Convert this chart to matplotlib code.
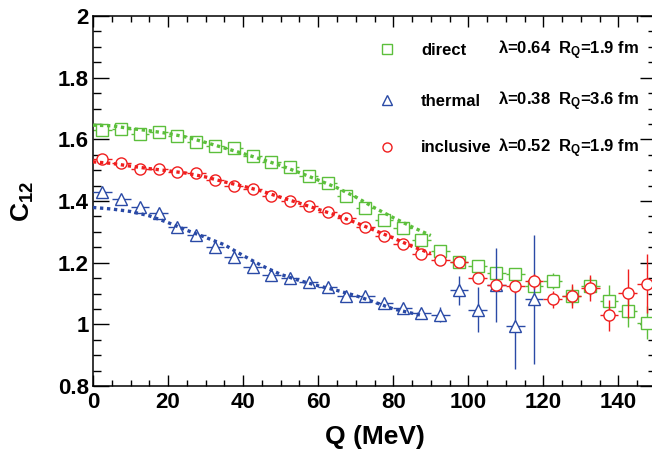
import numpy as np
import matplotlib
matplotlib.use("Agg")
import matplotlib.pyplot as plt
from matplotlib.ticker import MultipleLocator

plt.rcParams.update({
    "font.family": "Liberation Sans",
    "font.weight": "bold",
    "mathtext.fontset": "custom",
    "mathtext.rm": "Liberation Sans:bold",
    "mathtext.it": "Liberation Sans:bold",
    "mathtext.bf": "Liberation Sans:bold",
})

# --- data ---
q_bins = [2.5, 7.5, 12.5, 17.5, 22.5, 27.5, 32.5, 37.5, 42.5, 47.5,
          52.5, 57.5, 62.5, 67.5, 72.5, 77.5, 82.5, 87.5, 92.5, 97.5,
          102.5, 107.5, 112.5, 117.5, 122.5, 127.5, 132.5, 137.5, 142.5, 147.5]

direct_c = [1.630, 1.633, 1.617, 1.623, 1.611, 1.590, 1.578, 1.571, 1.546, 1.525,
            1.511, 1.481, 1.457, 1.416, 1.376, 1.340, 1.311, 1.275, 1.238, 1.203,
            1.188, 1.166, 1.162, 1.124, 1.142, 1.093, 1.123, 1.077, 1.042, 1.005]
direct_err = [0.006, 0.006, 0.006, 0.006, 0.006, 0.006, 0.006, 0.006, 0.006, 0.006,
              0.006, 0.006, 0.006, 0.007, 0.007, 0.008, 0.008, 0.009, 0.010, 0.012,
              0.015, 0.018, 0.020, 0.022, 0.026, 0.030, 0.032, 0.049, 0.051, 0.054]

inclusive_c = [1.536, 1.522, 1.504, 1.504, 1.493, 1.491, 1.468, 1.449, 1.439, 1.416,
               1.401, 1.385, 1.365, 1.344, 1.315, 1.286, 1.261, 1.229, 1.209, 1.202,
               1.151, 1.126, 1.123, 1.139, 1.081, 1.092, 1.119, 1.030, 1.101, 1.132]
inclusive_err = [0.005, 0.005, 0.005, 0.005, 0.005, 0.005, 0.005, 0.005, 0.005, 0.005,
                 0.005, 0.005, 0.006, 0.006, 0.006, 0.007, 0.007, 0.008, 0.009, 0.011,
                 0.015, 0.016, 0.020, 0.025, 0.027, 0.038, 0.042, 0.050, 0.079, 0.095]

thermal_q = q_bins[:24]
thermal_c = [1.428, 1.408, 1.381, 1.361, 1.316, 1.290, 1.252, 1.217, 1.187, 1.161,
             1.149, 1.136, 1.122, 1.093, 1.093, 1.068, 1.054, 1.037, 1.031, 1.110,
             1.048, 1.127, 0.994, 1.081]
thermal_err = [0.006, 0.006, 0.006, 0.006, 0.006, 0.006, 0.006, 0.006, 0.006, 0.006,
               0.006, 0.006, 0.007, 0.007, 0.008, 0.008, 0.009, 0.010, 0.024, 0.047,
               0.074, 0.120, 0.138, 0.210]

# fitted curves
fit_q = [0, 5, 10, 15, 20, 25, 30, 35, 40, 45, 50, 55, 60, 65, 70, 75, 80, 85, 90]
fit_direct = [1.646, 1.644, 1.635, 1.628, 1.619, 1.607, 1.590, 1.572, 1.554, 1.535,
              1.515, 1.492, 1.468, 1.443, 1.413, 1.378, 1.346, 1.316, 1.288]
fit_inclusive = [1.527, 1.522, 1.513, 1.505, 1.498, 1.490, 1.478, 1.462, 1.448, 1.432,
                 1.412, 1.393, 1.373, 1.353, 1.330, 1.305, 1.280, 1.253, 1.230]
fit_thermal_q = [0, 5, 10, 15, 20, 25, 30, 35, 40, 45, 50, 55, 60, 65, 70, 75, 80, 85, 88]
fit_thermal = [1.379, 1.374, 1.366, 1.352, 1.330, 1.305, 1.282, 1.258, 1.223, 1.190,
               1.162, 1.142, 1.125, 1.110, 1.093, 1.072, 1.050, 1.036, 1.028]

names = ["direct", "thermal", "inclusive"]
params = ["λ=0.64  R$_\\mathrm{Q}$=1.9 fm",
          "λ=0.38  R$_\\mathrm{Q}$=3.6 fm",
          "λ=0.52  R$_\\mathrm{Q}$=1.9 fm"]

GREEN = "#5cbf3c"
BLUE = "#2a4aa6"
RED = "#f01e1e"

fig = plt.figure(figsize=(6.52, 4.51), dpi=100)
ax = fig.add_axes([93 / 652, 65 / 451, 563 / 652, 370 / 451])

common = dict(xerr=2.5, ls="none", capsize=0, elinewidth=1.0, mew=1.0, mfc="white")
ax.errorbar(q_bins, direct_c, yerr=direct_err, fmt="s", ms=8.5,
            color=GREEN, zorder=2, **common)
ax.errorbar(thermal_q, thermal_c, yerr=thermal_err, fmt="^", ms=9,
            color=BLUE, zorder=3, **common)
ax.errorbar(q_bins, inclusive_c, yerr=inclusive_err, fmt="o", ms=8,
            color=RED, zorder=4, **common)

dots = (0, (1.0, 1.1))
ax.plot(fit_q, fit_direct, color=GREEN, lw=2.4, ls=dots, zorder=5)
ax.plot(fit_q, fit_inclusive, color=RED, lw=2.4, ls=dots, zorder=5)
ax.plot(fit_thermal_q, fit_thermal, color=BLUE, lw=2.4, ls=dots, zorder=5)

# legend drawn by hand
leg_markers = ["s", "^", "o"]
leg_colors = [GREEN, BLUE, RED]
leg_y = [0.910, 0.772, 0.646]
for i in range(3):
    ax.plot([0.522], [leg_y[i]], marker=leg_markers[i], ms=6.5, mfc="white",
            mec=leg_colors[i], mew=1.0, transform=ax.transAxes, clip_on=False)
    ax.text(0.583, leg_y[i] - 0.002, names[i], transform=ax.transAxes,
            fontsize=12, fontweight="bold", va="center", ha="left")
    ax.text(0.720, leg_y[i] - 0.002, params[i], transform=ax.transAxes,
            fontsize=12, fontweight="bold", va="center", ha="left")

ax.set_xlim(0, 150)
ax.set_ylim(0.8, 2.0)
ax.xaxis.set_major_locator(MultipleLocator(20))
ax.xaxis.set_minor_locator(MultipleLocator(5))
ax.yaxis.set_major_locator(MultipleLocator(0.2))
ax.yaxis.set_minor_locator(MultipleLocator(0.05))
ax.set_yticks([0.8, 1.0, 1.2, 1.4, 1.6, 1.8, 2.0])
ax.set_yticklabels(["0.8", "1", "1.2", "1.4", "1.6", "1.8", "2"])

ax.tick_params(axis="both", which="both", direction="in", top=True, right=True,
               width=1.0, labelsize=16, colors="black")
ax.tick_params(axis="y", which="major", length=11.5, pad=3)
ax.tick_params(axis="y", which="minor", length=5.8)
ax.tick_params(axis="x", which="major", length=8, pad=4)
ax.tick_params(axis="x", which="minor", length=4)
for lab in ax.get_xticklabels() + ax.get_yticklabels():
    lab.set_fontweight("bold")
for sp in ax.spines.values():
    sp.set_linewidth(1.1)

ax.set_xlabel("Q (MeV)", fontsize=19, fontweight="bold", labelpad=9)
ax.set_ylabel("C$_{12}$", fontsize=19, fontweight="bold", labelpad=16)

fig.savefig("out.png", dpi=100)
